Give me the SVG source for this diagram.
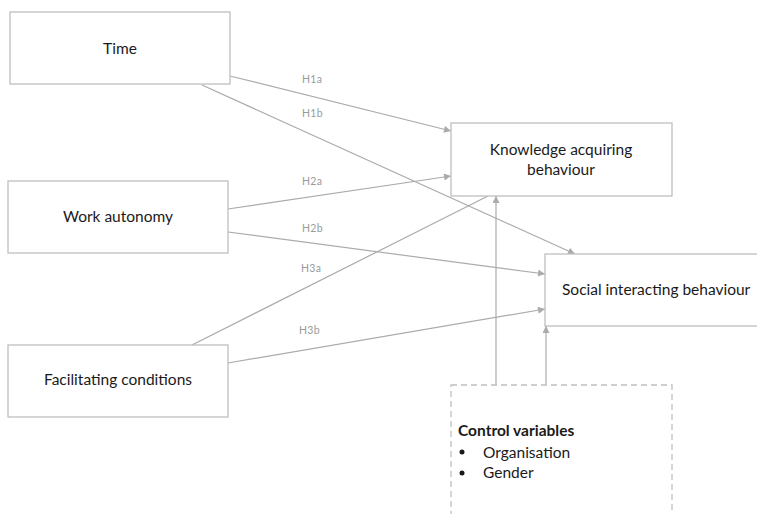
<svg xmlns="http://www.w3.org/2000/svg" width="757" height="514" viewBox="0 0 757 514">
  <style>
    .box { fill: #ffffff; stroke: #bfbfbf; stroke-width: 1.3; }
    .dash { fill: #ffffff; stroke: #bfbfbf; stroke-width: 1.3; stroke-dasharray: 6 4; }
    .lbl { font-family: "Lato", "Liberation Sans", sans-serif; font-size: 15.5px; fill: #1a1a1a; }
    .hyp { font-family: "Lato", "Liberation Sans", sans-serif; font-size: 10.5px; fill: #9a9a9a; letter-spacing: 0.3px; }
    .line { stroke: #ababab; stroke-width: 1.2; fill: none; }
    .edge { stroke: #ababab; stroke-width: 1.2; fill: none; marker-end: url(#arr); }
  </style>
  <defs>
    <marker id="arr" viewBox="0 0 10 10" refX="10" refY="5" markerWidth="8" markerHeight="7" markerUnits="userSpaceOnUse" orient="auto">
      <path d="M0,0 L10,5 L0,10 z" fill="#ababab"/>
    </marker>
  </defs>
  <rect width="757" height="514" fill="#ffffff"/>

  <g id="connectors">
    <line class="edge" x1="230" y1="76" x2="451" y2="131"/>
    <line class="edge" x1="202" y1="85" x2="575" y2="254"/>
    <line class="edge" x1="228" y1="209" x2="451" y2="176"/>
    <line class="edge" x1="228" y1="232" x2="545" y2="274"/>
    <line class="line" x1="192" y1="345" x2="488" y2="196"/>
    <line class="edge" x1="228" y1="363" x2="545" y2="309"/>
    <line class="edge" x1="496" y1="385" x2="496" y2="196"/>
    <line class="edge" x1="546" y1="385" x2="546" y2="326"/>
    <text class="hyp" x="302" y="83">H1a</text>
    <text class="hyp" x="302" y="117">H1b</text>
    <text class="hyp" x="302" y="185">H2a</text>
    <text class="hyp" x="302" y="232">H2b</text>
    <text class="hyp" x="301" y="272">H3a</text>
    <text class="hyp" x="299" y="334">H3b</text>
  </g>

  <g id="time">
    <rect class="box" x="10" y="12" width="220" height="72"/>
    <text class="lbl" x="120" y="54" text-anchor="middle">Time</text>
  </g>
  <g id="work-autonomy">
    <rect class="box" x="8" y="181" width="220" height="72"/>
    <text class="lbl" x="118" y="222" text-anchor="middle">Work autonomy</text>
  </g>
  <g id="facilitating-conditions">
    <rect class="box" x="8" y="345" width="220" height="72"/>
    <text class="lbl" x="118" y="385" text-anchor="middle">Facilitating conditions</text>
  </g>
  <g id="knowledge-acquiring">
    <rect class="box" x="451" y="123" width="221" height="73"/>
    <text class="lbl" x="561" y="155" text-anchor="middle">Knowledge acquiring</text>
    <text class="lbl" x="561" y="175" text-anchor="middle">behaviour</text>
  </g>
  <g id="social-interacting">
    <rect class="box" x="545" y="254" width="230" height="72"/>
    <text class="lbl" x="562" y="295">Social interacting behaviour</text>
  </g>
  <g id="control-variables">
    <rect class="dash" x="451" y="385" width="221" height="140"/>
    <text class="lbl" x="458" y="436" style="font-weight:bold">Control variables</text>
    <circle cx="462" cy="452" r="2.5" fill="#1a1a1a"/>
    <text class="lbl" x="483" y="458">Organisation</text>
    <circle cx="462" cy="473" r="2.5" fill="#1a1a1a"/>
    <text class="lbl" x="483" y="478">Gender</text>
  </g>
</svg>
